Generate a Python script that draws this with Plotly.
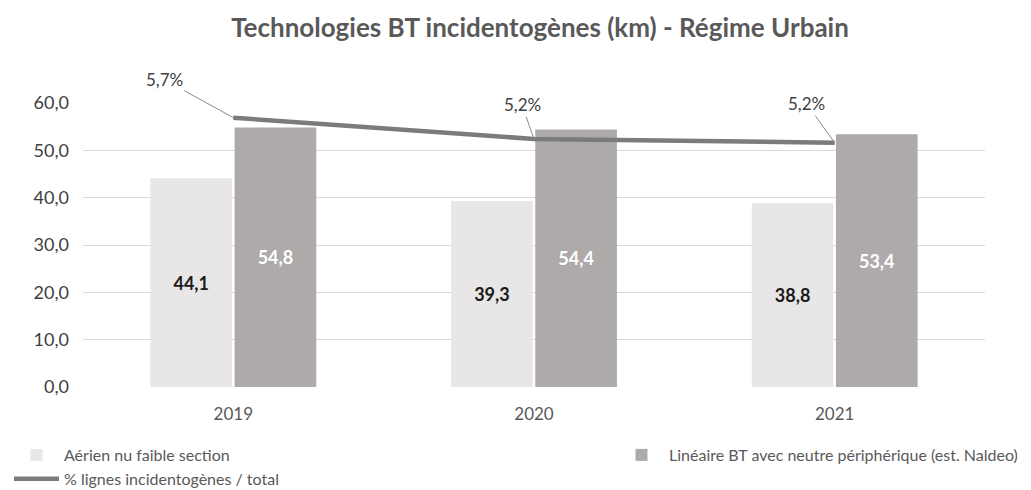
import plotly.graph_objects as go

years = ["2019", "2020", "2021"]
aerien = [44.1, 39.3, 38.8]
lineaire = [54.8, 54.4, 53.4]
pct = [5.69, 5.24, 5.16]
pct_labels = ["5,7%", "5,2%", "5,2%"]
ytick_vals = [0, 10, 20, 30, 40, 50, 60]

FONT = "Lato"
W, H = 1031, 490
fig = go.Figure()
fig.add_trace(go.Bar(
    x=years, y=aerien, name="Aérien nu faible section",
    marker=dict(color="#e8e6e6", line=dict(width=0)),
    text=[f"{v:.1f}".replace(".", ",") for v in aerien],
    textposition="inside", insidetextanchor="middle", textangle=0,
    textfont=dict(family=FONT, size=18, color="#1a1a1a", weight="bold"),
    legend="legend",
))
fig.add_trace(go.Bar(
    x=years, y=lineaire, name="Linéaire BT avec neutre périphérique (est. Naldeo)",
    marker=dict(color="#aeaaaa", line=dict(width=0)),
    text=[f"{v:.1f}".replace(".", ",") for v in lineaire],
    textposition="inside", insidetextanchor="middle", textangle=0,
    textfont=dict(family=FONT, size=18, color="#ffffff", weight="bold"),
    legend="legend2",
))
fig.add_trace(go.Scatter(
    x=years, y=pct, name="% lignes incidentogènes / total", yaxis="y2",
    mode="lines", line=dict(color="#7b7b7b", width=4.5),
    legend="legend",
))

offsets = [(-69, -38), (-12, -34), (-28, -39)]
for i, (v, lab, (ax, ay)) in enumerate(zip(pct, pct_labels, offsets)):
    fig.add_annotation(
        x=i, y=v, xref="x", yref="y2", text=lab, showarrow=True, arrowhead=0,
        arrowwidth=1, arrowcolor="#8a8a8a", ax=ax, ay=ay,
        font=dict(family=FONT, size=17, color="#404040"),
    )

fig.update_layout(
    width=W, height=H,
    margin=dict(l=75, r=54, t=95, b=111, autoexpand=False),
    paper_bgcolor="white", plot_bgcolor="white",
    separators=", ",
    title=dict(text="<b>Technologies BT incidentogènes (km) - Régime Urbain</b>",
               xref="container", yref="container",
               x=532 / W, xanchor="center", y=1 - 20 / H, yanchor="middle",
               font=dict(family=FONT, size=26, color="#595959")),
    barmode="group", bargap=0.44, bargroupgap=0.03,
    xaxis=dict(type="category", range=[-0.5, 2.5], showline=False, ticks="",
               tickfont=dict(family=FONT, size=17, color="#595959"), ticklabelstandoff=15),
    yaxis=dict(range=[0, 60], tickvals=ytick_vals, tickformat=".1f",
               gridcolor="#d9d9d9", gridwidth=1, zeroline=False, showline=False,
               tickfont=dict(family=FONT, size=18, color="#404040"), ticklabelstandoff=13),
    yaxis2=dict(range=[0, 6], overlaying="y", visible=False),
    legend=dict(orientation="v", xref="container", yref="container",
                x=1 / W, xanchor="left", y=1 - 430 / H, yanchor="top",
                font=dict(family=FONT, size=16, color="#595959"), tracegroupgap=0,
                itemwidth=45),
    legend2=dict(orientation="v", xref="container", yref="container",
                 x=606 / W, xanchor="left", y=1 - 430 / H, yanchor="top",
                 font=dict(family=FONT, size=16, color="#595959"), itemwidth=45),
    showlegend=True,
)
fig.write_html("out.html")
